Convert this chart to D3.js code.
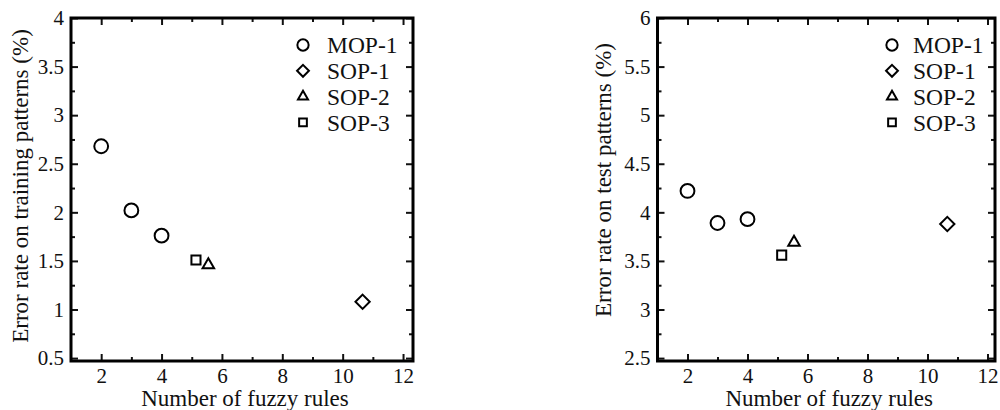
<!DOCTYPE html>
<html>
<head>
<meta charset="utf-8">
<script src="https://cdn.jsdelivr.net/npm/d3@7"></script>
<style>
  body { margin: 0; background: #fff; }
  text { font-family: "Liberation Serif", "Times New Roman", serif; fill: #111; }
  .titulo { font-size: 23px; }
  .leyenda text { font-size: 23.5px; }
</style>
</head>
<body>
<script>
// datos
var reglasMOP = [2, 3, 4],
    entrenoMOP = [2.68, 2.02, 1.76],
    pruebaMOP = [4.22, 3.89, 3.93];

var nombresSOP = ["SOP-1", "SOP-2", "SOP-3"],
    reglasSOP = [10.66, 5.55, 5.14],
    entrenoSOP = [1.08, 1.46, 1.51],
    pruebaSOP = [3.88, 3.69, 3.56];

var nombresLeyenda = ["MOP-1", "SOP-1", "SOP-2", "SOP-3"];

var ticksX = [2, 4, 6, 8, 10, 12],
    ticksXmenor = [3, 5, 7, 9, 11],
    ticksYizq = [0.5, 1, 1.5, 2, 2.5, 3, 3.5, 4],
    ticksYdcho = [2.5, 3, 3.5, 4, 4.5, 5, 5.5, 6];

var anchoSvg = 1000,
    altoSvg = 410;

var svg = d3.select('body')
    .append('svg')
    .attr('width', anchoSvg)
    .attr('height', altoSvg);

var formato = d3.format('~g');

// tipos de simbolo
var simbolos = {
  "MOP-1": d3.symbolCircle,
  "SOP-1": d3.symbolDiamond2,
  "SOP-2": d3.symbolTriangle2,
  "SOP-3": d3.symbolSquare2
};
var tamPunto = {"MOP-1": 150, "SOP-1": 130, "SOP-2": 95, "SOP-3": 105};
var tamLeyenda = {"MOP-1": 100, "SOP-1": 90, "SOP-2": 72, "SOP-3": 76};

function panel(cfg) {
  var x = d3.scaleLinear().domain(cfg.domX).range([cfg.x0, cfg.x1]);
  var y = d3.scaleLinear().domain(cfg.domY).range([cfg.y1, cfg.y0]);
  var ticksY = cfg.ticksY;
  var menorY = d3.range(ticksY[0] + 0.25, ticksY[ticksY.length - 1], 0.5);

  var g = svg.append('g');

  // ejes: abajo, arriba, izquierda, derecha con ticks hacia dentro
  function eje(gen, tr, vals, largo, conTexto) {
    var a = gen.tickValues(vals).tickSizeInner(-largo).tickSizeOuter(0).tickPadding(7);
    a.tickFormat(conTexto ? formato : '');
    var e = g.append('g').attr('transform', tr).call(a);
    e.select('.domain').remove();
    e.selectAll('.tick line').attr('stroke', '#111').attr('stroke-width', 2);
    return e;
  }
  var abajo = 'translate(0,' + cfg.y1 + ')', arriba = 'translate(0,' + cfg.y0 + ')',
      izq = 'translate(' + cfg.x0 + ',0)', dcho = 'translate(' + cfg.x1 + ',0)';

  eje(d3.axisBottom(x), abajo, ticksX, 7, true);
  eje(d3.axisBottom(x), abajo, ticksXmenor, 4, false);
  eje(d3.axisTop(x), arriba, ticksX, 7, false);
  eje(d3.axisTop(x), arriba, ticksXmenor, 4, false);
  eje(d3.axisLeft(y), izq, ticksY, 7, true);
  eje(d3.axisLeft(y), izq, menorY, 4, false);
  eje(d3.axisRight(y), dcho, ticksY, 7, false);
  eje(d3.axisRight(y), dcho, menorY, 4, false);

  g.selectAll('.tick text').attr('fill', '#111')
    .style('font-family', '"Liberation Serif", serif').style('font-size', '21px');

  // marco
  g.append('rect')
    .attr('x', cfg.x0).attr('y', cfg.y0)
    .attr('width', cfg.x1 - cfg.x0).attr('height', cfg.y1 - cfg.y0)
    .attr('fill', 'none').attr('stroke', '#000').attr('stroke-width', 3);

  // puntos
  var puntos = [];
  reglasMOP.forEach(function (r, i) { puntos.push({serie: "MOP-1", x: r, y: cfg.mop[i]}); });
  nombresSOP.forEach(function (n, i) { puntos.push({serie: n, x: reglasSOP[i], y: cfg.sop[i]}); });

  g.append('g').selectAll('path')
    .data(puntos)
    .enter()
    .append('path')
    .attr('d', function (d) { return d3.symbol().type(simbolos[d.serie]).size(tamPunto[d.serie])(); })
    .attr('transform', function (d) { return 'translate(' + x(d.x) + ',' + y(d.y) + ')'; })
    .attr('fill', 'none').attr('stroke', '#000').attr('stroke-width', 2);

  // leyenda
  var ley = g.append('g').attr('class', 'leyenda')
    .selectAll('g')
    .data(nombresLeyenda)
    .enter()
    .append('g')
    .attr('transform', function (d, i) { return 'translate(0,' + (45 + i * 25.8) + ')'; });
  ley.append('path')
    .attr('d', function (d) { return d3.symbol().type(simbolos[d]).size(tamLeyenda[d])(); })
    .attr('transform', 'translate(' + cfg.leyX + ',0)')
    .attr('fill', 'none').attr('stroke', '#000').attr('stroke-width', 2);
  ley.append('text')
    .attr('x', cfg.leyTx).attr('dy', '0.35em')
    .text(function (d) { return d; });

  // titulos
  g.append('text').attr('class', 'titulo')
    .attr('text-anchor', 'middle')
    .attr('x', (cfg.x0 + cfg.x1) / 2 + 3).attr('y', 406)
    .text('Number of fuzzy rules');
  g.append('text').attr('class', 'titulo')
    .attr('text-anchor', 'middle')
    .attr('transform', 'translate(' + cfg.tituloYx + ',' + cfg.tituloYy + ') rotate(-90)')
    .text(cfg.tituloY);
}

panel({
  x0: 71, x1: 413, y0: 18, y1: 361,
  domX: [1, 12.33], domY: [0.47, 4],
  ticksY: ticksYizq,
  mop: entrenoMOP, sop: entrenoSOP,
  leyX: 303, leyTx: 327,
  tituloY: 'Error rate on training patterns (%)', tituloYx: 28, tituloYy: 186
});

panel({
  x0: 657.5, x1: 995, y0: 18, y1: 361,
  domX: [1, 12.25], domY: [2.47, 6],
  ticksY: ticksYdcho,
  mop: pruebaMOP, sop: pruebaSOP,
  leyX: 892, leyTx: 913,
  tituloY: 'Error rate on test patterns (%)', tituloYx: 611, tituloYy: 180
});
</script>
</body>
</html>
